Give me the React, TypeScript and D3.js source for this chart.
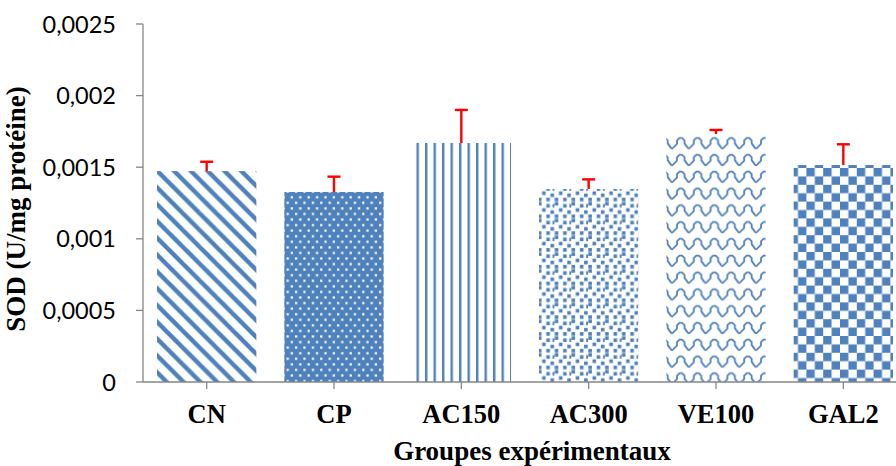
import React from "react";
import * as d3 from "d3";

const categories = ["CN", "CP", "AC150", "AC300", "VE100", "GAL2"];
const means = [0.001473, 0.001327, 0.001669, 0.001348, 0.001732, 0.001515];
const errors = [0.000065, 0.000107, 0.000231, 0.000067, 0.000028, 0.000145];
const yTicks = [0, 0.0005, 0.001, 0.0015, 0.002, 0.0025];
const yTickLabels = ["0", "0,0005", "0,001", "0,0015", "0,002", "0,0025"];
const patternIds = ["pCN", "pCP", "pAC150", "pAC300", "pVE100", "pGAL2"];

const W = 896;
const H = 466;
const BLUE = "#4f81bd";
const GRAY = "#868686";

export default function App() {
  const x = d3
    .scaleBand<string>()
    .domain(categories)
    .range([143, 907])
    .paddingInner(0.22)
    .paddingOuter(0.11);
  const y = d3.scaleLinear().domain([0, 0.0025]).range([382, 24]);

  const P = 16.8;
  const t = 6.3;
  const u = P / 8;

  return (
    <svg
      width={W}
      height={H}
      style={{ position: "absolute", left: 0, top: 0, background: "#fff" }}
    >
      <defs>
        {/* wide downward diagonal */}
        <pattern id="pCN" width={P} height={P} patternUnits="userSpaceOnUse">
          <rect width={P} height={P} fill="#fff" />
          <polygon points={`0,0 ${t},0 ${P},${P - t} ${P},${P}`} fill={BLUE} />
          <polygon points={`0,${P - t} 0,${P} ${t},${P}`} fill={BLUE} />
        </pattern>
        {/* blue with white dots */}
        <pattern id="pCP" width={8.4} height={11.14} patternUnits="userSpaceOnUse">
          <rect width={8.4} height={11.14} fill={BLUE} />
          <rect x={1} y={1.2} width={2.2} height={2.2} fill="#fff" />
          <rect x={5.2} y={6.77} width={2.2} height={2.2} fill="#fff" />
        </pattern>
        {/* vertical lines */}
        <pattern id="pAC150" width={8.5} height={10} patternUnits="userSpaceOnUse">
          <rect width={8.5} height={10} fill="#fff" />
          <rect x={0} y={0} width={2.4} height={10} fill={BLUE} />
        </pattern>
        {/* large confetti */}
        <pattern id="pAC300" width={P} height={P} patternUnits="userSpaceOnUse">
          <rect width={P} height={P} fill="#fff" />
          {[
            [0, 0],
            [4, 1],
            [2, 3],
            [6, 4],
            [0, 6],
            [4, 6],
            [7, 1],
          ].map(([a, b], i) => (
            <rect key={i} x={a * u + 0.3} y={b * u + 0.3} width={2 * u - 0.6} height={2 * u - 0.6} fill={BLUE} />
          ))}
        </pattern>
        {/* wave */}
        <pattern id="pVE100" width={P} height={P} patternUnits="userSpaceOnUse">
          <rect width={P} height={P} fill="#fff" />
          <path
            d={`M0,14.5 L5,9.5 L5,6 L7.5,3.5 L10,3.5 L12.5,6 L12.5,9 L${P - 1},13.5 L${P},14.5`}
            fill="none"
            stroke={BLUE}
            strokeWidth={1.8}
            strokeLinejoin="round"
          />
        </pattern>
        {/* checkerboard */}
        <pattern id="pGAL2" width={P} height={P} patternUnits="userSpaceOnUse">
          <rect width={P} height={P} fill="#fff" />
          <rect x={0} y={0} width={P / 2} height={P / 2} fill={BLUE} />
          <rect x={P / 2} y={P / 2} width={P / 2} height={P / 2} fill={BLUE} />
        </pattern>
      </defs>

      {/* bars */}
      {categories.map((c, i) => (
        <rect
          key={c}
          x={x(c)}
          y={y(means[i])}
          width={x.bandwidth()}
          height={y(0) - y(means[i])}
          fill={`url(#${patternIds[i]})`}
        />
      ))}

      {/* error bars */}
      {categories.map((c, i) => {
        const cx = (x(c) as number) + x.bandwidth() / 2;
        const top = y(means[i] + errors[i]);
        return (
          <g key={c + "e"} stroke="#ff0000" strokeWidth={2.4}>
            <line x1={cx} x2={cx} y1={y(means[i])} y2={top} />
            <line x1={cx - 6.5} x2={cx + 6.5} y1={top} y2={top} />
          </g>
        );
      })}

      {/* y axis */}
      <line x1={143} x2={143} y1={y(0.0025)} y2={y(0)} stroke={GRAY} strokeWidth={1.3} />
      {yTicks.map((v, i) => (
        <g key={v}>
          <line x1={136} x2={143} y1={y(v)} y2={y(v)} stroke={GRAY} strokeWidth={1.3} />
          <text
            x={116}
            y={y(v) + 8.5}
            textAnchor="end"
            fontFamily="Lato, 'Open Sans', sans-serif"
            fontSize={23.5}
            fill="#000"
          >
            {yTickLabels[i]}
          </text>
        </g>
      ))}

      {/* x axis */}
      <line x1={143} x2={W} y1={y(0)} y2={y(0)} stroke={GRAY} strokeWidth={1.3} />
      {categories.map((c) => {
        const cx = (x(c) as number) + x.bandwidth() / 2;
        return (
          <g key={c + "t"}>
            <line x1={cx} x2={cx} y1={y(0)} y2={y(0) + 7} stroke={GRAY} strokeWidth={1.3} />
            <text
              x={cx}
              y={423}
              textAnchor="middle"
              fontFamily="'Liberation Serif', 'Times New Roman', serif"
              fontWeight="bold"
              fontSize={26.5}
              fill="#000"
            >
              {c}
            </text>
          </g>
        );
      })}

      <text
        x={532}
        y={460}
        textAnchor="middle"
        fontFamily="'Liberation Serif', 'Times New Roman', serif"
        fontWeight="bold"
        fontSize={27}
        fill="#000"
      >
        Groupes expérimentaux
      </text>
      <text
        transform="translate(25,209) rotate(-90)"
        textAnchor="middle"
        fontFamily="'Liberation Serif', 'Times New Roman', serif"
        fontWeight="bold"
        fontSize={27}
        fill="#000"
      >
        SOD (U/mg protéine)
      </text>
    </svg>
  );
}
